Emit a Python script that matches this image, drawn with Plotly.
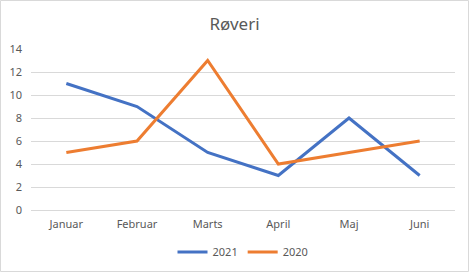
import plotly.graph_objects as go

categories = ["Januar", "Februar", "Marts", "April", "Maj", "Juni"]
series_2021 = [11, 9, 5, 3, 8, 3]
series_2020 = [5, 6, 13, 4, 5, 6]
y_ticks = [0, 2, 4, 6, 8, 10, 12, 14]

W, H = 469, 272
L, R, T, B = 31, 14, 49, 62
pw, ph = W - L - R, H - T - B

fig = go.Figure()
fig.add_trace(go.Scatter(x=categories, y=series_2021, name="2021", mode="lines",
                         line=dict(color="#4472C4", width=3)))
fig.add_trace(go.Scatter(x=categories, y=series_2020, name="2020", mode="lines",
                         line=dict(color="#ED7D31", width=3)))

font_family = "Noto Sans, Liberation Sans, sans-serif"
fig.update_layout(
    width=W, height=H,
    margin=dict(l=L, r=R, t=T, b=B, pad=0, autoexpand=False),
    paper_bgcolor="white", plot_bgcolor="white",
    font=dict(family=font_family, size=11, color="#595959"),
    title=dict(text="Røveri", x=0.5, xanchor="center", y=1 - 24 / H, yanchor="middle",
               font=dict(size=17, color="#595959", family=font_family)),
    showlegend=True,
    legend=dict(orientation="h", x=0.5, xanchor="center", y=-(252 - 210) / ph, yanchor="middle",
                font=dict(size=11, color="#595959"), itemwidth=30, traceorder="normal"),
    xaxis=dict(type="category", range=[-0.5, 5.5], showgrid=False, showline=False,
               automargin=False,
               ticks="", tickfont=dict(size=11, color="#595959"), ticklabelstandoff=6),
    yaxis=dict(range=[0, 14], tickvals=y_ticks, showgrid=True, gridcolor="#D9D9D9",
               automargin=False,
               gridwidth=1, zeroline=True, zerolinecolor="#D9D9D9", zerolinewidth=1,
               showline=False, ticks="", tickfont=dict(size=11, color="#595959"),
               ticklabelstandoff=8),
    shapes=[dict(type="rect", xref="paper", yref="paper",
                 x0=-(L - 0.5) / pw, x1=1 + (R - 0.5) / pw,
                 y0=-(B - 0.5) / ph, y1=1 + (T - 0.5) / ph,
                 line=dict(color="#D9D9D9", width=1), fillcolor="rgba(0,0,0,0)", layer="below")],
)

fig.write_html("out.html")
